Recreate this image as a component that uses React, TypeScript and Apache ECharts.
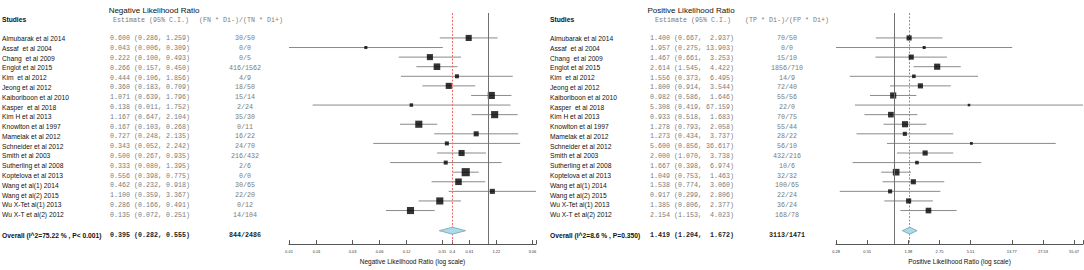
import React, { useEffect, useRef } from "react";
import * as echarts from "echarts";

// ---------- data ----------
const studies = [
  "Almubarak et al 2014",
  "Assaf  et al 2004",
  "Chang  et al 2009",
  "Englot et al 2015",
  "Kim  et al 2012",
  "Jeong et al 2012",
  "Kaiboriboon et al 2010",
  "Kasper  et al 2018",
  "Kim H et al 2013",
  "Knowlton et al 1997",
  "Mamelak et al 2012",
  "Schneider et al 2012",
  "Smith et al 2003",
  "Sutherling et al 2008",
  "Koptelova et al 2013",
  "Wang et al(1) 2014",
  "Wang et al(2) 2015",
  "Wu X-Tet al(1) 2013",
  "Wu X-T et al(2) 2012",
];

const nlrEst = [0.6, 0.043, 0.222, 0.266, 0.444, 0.36, 1.071, 0.138, 1.167, 0.167, 0.727, 0.343, 0.5, 0.333, 0.556, 0.462, 1.1, 0.286, 0.135];
const nlrLow = [0.286, 0.006, 0.1, 0.157, 0.106, 0.183, 0.639, 0.011, 0.647, 0.103, 0.248, 0.052, 0.267, 0.08, 0.398, 0.232, 0.359, 0.166, 0.072];
const nlrHigh = [1.259, 0.309, 0.493, 0.45, 1.856, 0.709, 1.796, 1.752, 2.104, 0.268, 2.135, 2.242, 0.935, 1.395, 0.775, 0.918, 3.367, 0.491, 0.251];
const nlrCounts = ["30/50", "0/0", "0/5", "416/1562", "4/9", "18/50", "15/14", "2/24", "35/30", "0/11", "16/22", "24/70", "216/432", "2/6", "0/0", "30/65", "22/20", "0/12", "14/104"];
const nlrWeights = [5.5, 1.4, 5.5, 6.4, 2.4, 5.5, 7.5, 1.8, 7.5, 7.5, 3.8, 2.4, 5.5, 2.4, 9.8, 6.4, 3.8, 7.5, 7.5];
const nlrPooled = [0.395, 0.282, 0.555];
const nlrPooledCount = "844/2486";
const nlrPooledLabel = "Overall (I^2=75.22 % , P< 0.001)";
const nlrTickValues = [0.006, 0.0122, 0.0306, 0.0612, 0.122, 0.306, 0.395, 0.612, 1.22, 3.06];
const nlrTickLabels = ["0.01", "0.01", "0.03", "0.06", "0.12", "0.31", "0.4", "0.61", "1.22", "3.06"];

const plrEst = [1.4, 1.957, 1.467, 2.614, 1.556, 1.8, 0.982, 5.308, 0.933, 1.278, 1.273, 5.6, 2.0, 1.667, 1.049, 1.538, 0.917, 1.385, 2.154];
const plrLow = [0.667, 0.275, 0.661, 1.545, 0.373, 0.914, 0.586, 0.419, 0.518, 0.793, 0.434, 0.856, 1.07, 0.398, 0.753, 0.774, 0.299, 0.806, 1.153];
const plrHigh = [2.937, 13.903, 3.253, 4.422, 6.495, 3.544, 1.646, 67.159, 1.683, 2.058, 3.737, 36.617, 3.738, 6.974, 1.463, 3.06, 2.806, 2.377, 4.023];
const plrCounts = ["70/50", "0/0", "15/10", "1856/710", "14/9", "72/40", "55/56", "22/0", "70/75", "55/44", "28/22", "56/10", "432/216", "10/6", "32/32", "100/65", "22/24", "36/24", "168/78"];
const plrWeights = [5.7, 2.0, 5.7, 8.2, 2.8, 5.7, 8.2, 1.4, 6.9, 8.2, 3.6, 1.7, 5.7, 2.8, 9.6, 5.7, 3.6, 5.7, 6.9];
const plrPooled = [1.419, 1.204, 1.672];
const plrPooledCount = "3113/1471";
const plrPooledLabel = "Overall (I^2=8.6 % , P=0.350)";
const plrTickValues = [0.2753, 0.5506, 1.377, 2.753, 5.506, 13.77, 27.53, 55.07];
const plrTickLabels = ["0.28", "0.55", "1.38", "2.75", "5.51", "13.77", "27.53", "55.07"];

// ---------- layout ----------
const LOG = Math.log10;
const TOP = 13;
const H = 236;
const YMIN = -2.6;
const YMAX = 21.5;
const HEADER_ROW = -1.9;
const OVERALL_ROW = 20.1;
const SANS = '"Liberation Sans", Arial, sans-serif';
const MONO = '"Liberation Mono", "Courier New", monospace';

type Panel = {
  title: string;
  axisName: string;
  countHeader: string;
  est: number[];
  low: number[];
  high: number[];
  counts: string[];
  weights: number[];
  pooled: number[];
  pooledCount: string;
  pooledLabel: string;
  tickValues: number[];
  tickLabels: string[];
  sizeK: number;
  L: { name: number; est: number; estHeader: number; count: number; countHeader: number; title: number; plotLeft: number; plotWidth: number };
};

const panels: Panel[] = [
  {
    title: "Negative Likelihood Ratio",
    axisName: "Negative Likelihood Ratio (log scale)",
    countHeader: "(FN * Di-)/(TN * Di+)",
    est: nlrEst,
    low: nlrLow,
    high: nlrHigh,
    counts: nlrCounts,
    weights: nlrWeights,
    pooled: nlrPooled,
    pooledCount: nlrPooledCount,
    pooledLabel: nlrPooledLabel,
    tickValues: nlrTickValues,
    tickLabels: nlrTickLabels,
    sizeK: 2.6,
    L: { name: 2, est: 110, estHeader: 113, count: 245, countHeader: 199, title: 149, plotLeft: 289, plotWidth: 247 },
  },
  {
    title: "Positive Likelihood Ratio",
    axisName: "Positive Likelihood Ratio (log scale)",
    countHeader: "(TP * Di-)/(FP * Di+)",
    est: plrEst,
    low: plrLow,
    high: plrHigh,
    counts: plrCounts,
    weights: plrWeights,
    pooled: plrPooled,
    pooledCount: plrPooledCount,
    pooledLabel: plrPooledLabel,
    tickValues: plrTickValues,
    tickLabels: plrTickLabels,
    sizeK: 2.15,
    L: { name: 550, est: 650, estHeader: 655, count: 787, countHeader: 745, title: 686, plotLeft: 836, plotWidth: 247 },
  },
];

type TextItem = { x: number; y: number; text: string; bold?: boolean; color?: string };

function textSeries(items: TextItem[], family: string, size: number, color: string, align: string) {
  return {
    type: "custom",
    xAxisIndex: 0,
    yAxisIndex: 0,
    silent: true,
    clip: false,
    data: items.map((it) => [it.x, it.y]),
    renderItem: (params: any, api: any) => {
      const it = items[params.dataIndex];
      const p = api.coord([api.value(0), api.value(1)]);
      return {
        type: "text",
        x: p[0],
        y: p[1],
        style: {
          text: it.text,
          fill: it.color || color,
          font: `${it.bold ? "bold " : ""}${size}px ${family}`,
          align,
          verticalAlign: "middle",
        },
      };
    },
  };
}

function buildOption() {
  const grids: any[] = [{ left: 0, top: TOP, width: 1084, height: H }];
  const xAxes: any[] = [{ type: "value", gridIndex: 0, min: 0, max: 1084, show: false }];
  const yAxes: any[] = [{ type: "value", gridIndex: 0, min: YMIN, max: YMAX, inverse: true, show: false }];
  const series: any[] = [];
  const titles: any[] = [];

  panels.forEach((p, k) => {
    const g = k + 1;
    const L = p.L;
    const minV = Math.min(...p.low);
    const maxV = Math.max(...p.high);
    const hw = Math.max(...p.high.map((h) => h.toFixed(3).length), p.pooled[2].toFixed(3).length);
    const estStr = (e: number, l: number, h: number) => `${e.toFixed(3)} (${l.toFixed(3)}, ${h.toFixed(3).padStart(hw, " ")})`;

    titles.push({
      text: p.title,
      left: L.title,
      top: 1,
      textAlign: "center",
      textStyle: { fontSize: 8, fontWeight: "normal", fontFamily: SANS, color: "#111" },
    });

    // name column
    series.push(
      textSeries(
        [
          { x: L.name, y: HEADER_ROW, text: "Studies", bold: true },
          ...studies.map((s, i) => ({ x: L.name, y: i, text: s })),
          { x: L.name, y: OVERALL_ROW, text: p.pooledLabel, bold: true },
        ],
        SANS,
        6.7,
        "#111",
        "left"
      )
    );
    // estimate column
    series.push(
      textSeries(
        [
          { x: L.estHeader, y: HEADER_ROW, text: "Estimate (95% C.I.)" },
          ...p.est.map((e, i) => ({ x: L.est, y: i, text: estStr(e, p.low[i], p.high[i]) })),
          { x: L.est, y: OVERALL_ROW, text: estStr(p.pooled[0], p.pooled[1], p.pooled[2]), bold: true, color: "#222" },
        ],
        MONO,
        6.67,
        "#7a7a7a",
        "left"
      )
    );
    // count header
    series.push(textSeries([{ x: L.countHeader, y: HEADER_ROW, text: p.countHeader }], MONO, 6.67, "#7a7a7a", "left"));
    // counts column
    series.push(
      textSeries(
        [
          ...p.counts.map((c, i) => ({ x: L.count, y: i, text: c })),
          { x: L.count, y: OVERALL_ROW, text: p.pooledCount, bold: true, color: "#222" },
        ],
        MONO,
        6.67,
        "#7a7a7a",
        "center"
      )
    );

    grids.push({ left: L.plotLeft, top: TOP, width: L.plotWidth, height: H });
    xAxes.push({
      type: "value",
      gridIndex: g,
      min: LOG(minV),
      max: LOG(maxV),
      axisLine: { show: true, onZero: false, lineStyle: { color: "#555", width: 1 } },
      axisTick: {
        show: true,
        inside: true,
        length: 4,
        customValues: [...p.tickValues, maxV].map(LOG),
        lineStyle: { color: "#555", width: 1 },
      },
      axisLabel: {
        show: true,
        customValues: p.tickValues.map(LOG),
        formatter: (v: number) => {
          const idx = p.tickValues.findIndex((t) => Math.abs(LOG(t) - v) < 1e-6);
          return idx >= 0 ? p.tickLabels[idx] : "";
        },
        fontSize: 4,
        fontFamily: SANS,
        color: "#333",
        margin: 5,
      },
      splitLine: { show: false },
      name: p.axisName,
      nameLocation: "middle",
      nameGap: 13,
      nameTextStyle: { fontSize: 6.5, fontFamily: SANS, color: "#111" },
    });
    yAxes.push({ type: "value", gridIndex: g, min: YMIN, max: YMAX, inverse: true, show: false });

    // CI lines (also carries the line of no effect at 1)
    series.push({
      type: "custom",
      xAxisIndex: g,
      yAxisIndex: g,
      silent: true,
      clip: false,
      z: 2,
      data: p.est.map((_, i) => [LOG(p.low[i]), LOG(p.high[i]), i]),
      renderItem: (params: any, api: any) => {
        const a = api.coord([api.value(0), api.value(2)]);
        const b = api.coord([api.value(1), api.value(2)]);
        return {
          type: "line",
          shape: { x1: a[0], y1: a[1], x2: b[0], y2: b[1] },
          style: { stroke: "#8a8a8a", lineWidth: 1 },
        };
      },
      markLine: {
        silent: true,
        symbol: ["none", "none"],
        label: { show: false },
        lineStyle: { color: "#707070", type: "solid", width: 1 },
        data: [{ xAxis: 0 }],
      },
    });
    // point estimates
    series.push({
      type: "scatter",
      xAxisIndex: g,
      yAxisIndex: g,
      silent: true,
      z: 4,
      symbol: "rect",
      symbolSize: (v: number[]) => Math.sqrt(v[2]) * p.sizeK,
      itemStyle: { color: "#000" },
      data: p.est.map((e, i) => [LOG(e), i, p.weights[i]]),
    });
    // pooled diamond + pooled estimate line
    series.push({
      type: "custom",
      xAxisIndex: g,
      yAxisIndex: g,
      silent: true,
      clip: false,
      z: 5,
      data: [[LOG(p.pooled[1]), LOG(p.pooled[0]), LOG(p.pooled[2]), OVERALL_ROW]],
      renderItem: (params: any, api: any) => {
        const l = api.coord([api.value(0), api.value(3)]);
        const c = api.coord([api.value(1), api.value(3)]);
        const r = api.coord([api.value(2), api.value(3)]);
        return {
          type: "polygon",
          shape: { points: [[l[0], l[1]], [c[0], c[1] - 3.5], [r[0], r[1]], [c[0], c[1] + 3.5]] },
          style: { fill: "#a8dcec", stroke: "#7f9ea8", lineWidth: 0.8 },
        };
      },
      markLine: {
        silent: true,
        symbol: ["none", "none"],
        label: { show: false },
        z: 3,
        lineStyle: { color: "#f26b6b", type: [2, 1.5], width: 1 },
        data: [{ xAxis: LOG(p.pooled[0]) }],
      },
    });
  });

  return {
    animation: false,
    backgroundColor: "#fff",
    title: titles,
    grid: grids,
    xAxis: xAxes,
    yAxis: yAxes,
    series,
  };
}

export default function App() {
  const ref = useRef<HTMLDivElement>(null);
  useEffect(() => {
    const chart = echarts.init(ref.current!, null, { renderer: "svg" });
    chart.setOption(buildOption() as any);
    return () => chart.dispose();
  }, []);
  return <div ref={ref} style={{ position: "absolute", left: 0, top: 0, width: 1084, height: 270 }} />;
}
